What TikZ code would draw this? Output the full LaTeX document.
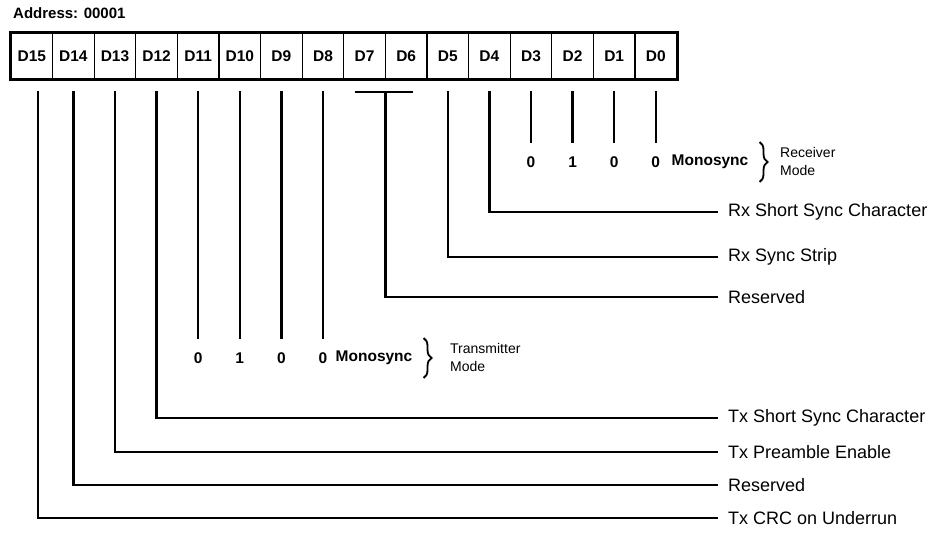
\documentclass[tikz,border=0pt]{standalone}
\usepackage{fontspec}
\setmainfont{Liberation Sans}
\usetikzlibrary{calc, positioning, decorations.pathreplacing}

\begin{document}
\begin{tikzpicture}[x=1pt, y=-1pt,
cell/.style={rectangle, draw=black, line width=1.2pt, minimum width=41.6pt, minimum height=45pt, inner sep=0pt, font=\bfseries\fontsize{15.5}{15.5}\selectfont},
wire/.style={line width=2.3pt},
field/.style={anchor=west, inner sep=0pt, font=\fontsize{18}{18}\selectfont},
bit/.style={inner sep=0pt, font=\bfseries\fontsize{15.5}{15.5}\selectfont},
mode/.style={anchor=west, inner sep=0pt, align=left, font=\fontsize{14}{18}\selectfont},
curly/.style={decorate, decoration={brace, amplitude=8pt}, line width=1.8pt}]

\useasboundingbox (0, 0) rectangle (948, 556);

\node[anchor=west, inner sep=0pt, font=\bfseries\fontsize{15}{15}\selectfont]
(address) at (13, 13)
{Address: 00001};

\node[cell] (d15) at (31.8, 56) {D15};
\node[cell] (d14) at (73.4, 56) {D14};
\node[cell] (d13) at (115.0, 56) {D13};
\node[cell] (d12) at (156.6, 56) {D12};
\node[cell] (d11) at (198.2, 56) {D11};
\node[cell] (d10) at (239.8, 56) {D10};
\node[cell] (d9) at (281.4, 56) {D9};
\node[cell] (d8) at (323.0, 56) {D8};
\node[cell] (d7) at (364.6, 56) {D7};
\node[cell] (d6) at (406.2, 56) {D6};
\node[cell] (d5) at (447.8, 56) {D5};
\node[cell] (d4) at (489.4, 56) {D4};
\node[cell] (d3) at (531.0, 56) {D3};
\node[cell] (d2) at (572.6, 56) {D2};
\node[cell] (d1) at (614.2, 56) {D1};
\node[cell] (d0) at (655.8, 56) {D0};

\draw[line width=3pt] (d15.north west) rectangle (d0.south east);

\node[field] (rx-short) at (728, 212) {Rx Short Sync Character};
\node[field] (rx-strip) at (728, 257) {Rx Sync Strip};
\node[field] (rx-res) at (728, 297) {Reserved};
\node[field] (tx-short) at (728, 418) {Tx Short Sync Character};
\node[field] (tx-pre) at (728, 452) {Tx Preamble Enable};
\node[field] (tx-res) at (728, 485) {Reserved};
\node[field] (tx-crc) at (728, 518) {Tx CRC on Underrun};

\coordinate (rx-row) at (0, 162);
\coordinate (tx-row) at (0, 358);

\node[bit] (rx3) at (d3 |- rx-row) {0};
\node[bit] (rx2) at (d2 |- rx-row) {1};
\node[bit] (rx1) at (d1 |- rx-row) {0};
\node[bit] (rx0) at (d0 |- rx-row) {0};
\node[bit] (rx-mono) at (710, 162) {Monosync};
\node[mode] (rx-mode) at (780, 161) {Receiver\\Mode};

\node[bit] (tx11) at (d11 |- tx-row) {0};
\node[bit] (tx10) at (d10 |- tx-row) {1};
\node[bit] (tx9) at (d9 |- tx-row) {0};
\node[bit] (tx8) at (d8 |- tx-row) {0};
\node[bit] (tx-mono) at (374, 358) {Monosync};
\node[mode] (tx-mode) at (450, 357) {Transmitter\\Mode};

\foreach \b in {3, 2, 1, 0}
  \draw[wire] ([yshift=-12pt]d\b.south) -- ([yshift=13pt]rx\b.north);
\foreach \b in {11, 10, 9, 8}
  \draw[wire] ([yshift=-12pt]d\b.south) -- ([yshift=13pt]tx\b.north);

\draw[curly] ([xshift=11pt, yshift=20pt]rx-mono.east) -- ([xshift=11pt, yshift=-20pt]rx-mono.east);
\draw[curly] ([xshift=11pt, yshift=20pt]tx-mono.east) -- ([xshift=11pt, yshift=-20pt]tx-mono.east);

\draw[wire] ([yshift=-12pt]d4.south) |- ([xshift=-10pt]rx-short.west);
\draw[wire] ([yshift=-12pt]d5.south) |- ([xshift=-10pt]rx-strip.west);
\coordinate (d7d6) at ($(d7.south)!0.5!(d6.south)$);
\draw[wire] ([xshift=-10pt, yshift=-13pt]d7.south) -- ([xshift=7pt, yshift=-13pt]d6.south);
\draw[wire] ([yshift=-13pt]d7d6) |- ([xshift=-10pt]rx-res.west);
\draw[wire] ([yshift=-12pt]d12.south) |- ([xshift=-10pt]tx-short.west);
\draw[wire] ([yshift=-12pt]d13.south) |- ([xshift=-10pt]tx-pre.west);
\draw[wire] ([yshift=-12pt]d14.south) |- ([xshift=-10pt]tx-res.west);
\draw[wire] ([xshift=6pt, yshift=-12pt]d15.south) |- ([xshift=-10pt]tx-crc.west);

\end{tikzpicture}
\end{document}
